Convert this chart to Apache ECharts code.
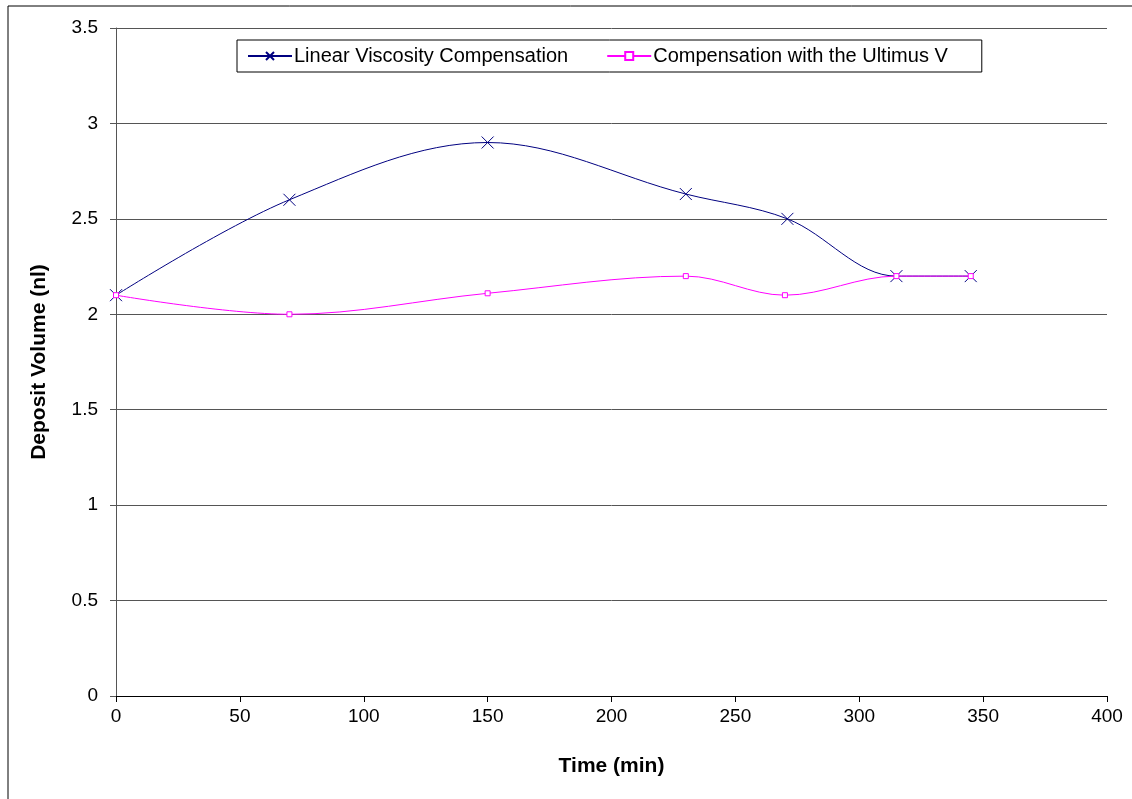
<!DOCTYPE html>
<html><head><meta charset="utf-8">
<script src="https://cdn.jsdelivr.net/npm/echarts@6/dist/echarts.min.js"></script>
<style>html,body{margin:0;padding:0;background:#fff}#c{width:1132px;height:799px}</style>
</head><body><div id="c"></div>
<script>
const seriesNames = ['Linear Viscosity Compensation', 'Compensation with the Ultimus V'];
const linearTime = [0, 70, 150, 230, 271, 315, 345];
const linearVolume = [2.1, 2.6, 2.9, 2.63, 2.5, 2.2, 2.2];
const ultimusTime = [0, 70, 150, 230, 270, 315, 345];
const ultimusVolume = [2.1, 2.0, 2.11, 2.2, 2.1, 2.2, 2.2];
const xTicks = [0, 50, 100, 150, 200, 250, 300, 350, 400];
const yTicks = [0, 0.5, 1, 1.5, 2, 2.5, 3, 3.5];

const chart = echarts.init(document.getElementById('c'), null, {renderer: 'canvas'});
const font = 'Liberation Sans, Arial, sans-serif';
const crossPath = 'path://M0,0L10,10M10,0L0,10';
chart.setOption({
  animation: false,
  textStyle: {fontFamily: font},
  graphic: [{type: 'rect', shape: {x: 8, y: 6, width: 1140, height: 820}, style: {fill: 'none', stroke: '#000', lineWidth: 1}, silent: true, z: -1}],
  grid: {left: 116, right: 25, top: 28, bottom: 103},
  legend: {
    left: 237, top: 40, orient: 'horizontal',
    padding: [6, 34, 6, 10], itemGap: 38,
    borderColor: '#000', borderWidth: 1,
    itemWidth: 44, itemHeight: 10,
    textStyle: {fontSize: 20, color: '#000', fontFamily: font, padding: [0, 0, 0, -3]},
    data: seriesNames
  },
  xAxis: {
    type: 'value', min: 0, max: 400, interval: 50,
    name: 'Time (min)', nameLocation: 'middle', nameGap: 60,
    nameTextStyle: {fontSize: 21, fontWeight: 'bold', color: '#000'},
    axisLine: {lineStyle: {color: '#000'}},
    axisTick: {show: true, length: 6, lineStyle: {color: '#000'}},
    axisLabel: {fontSize: 19, color: '#000', margin: 11,
      formatter: v => xTicks.includes(v) ? String(v) : ''},
    splitLine: {show: false}
  },
  yAxis: {
    type: 'value', min: 0, max: 3.5, interval: 0.5,
    name: 'Deposit Volume (nl)', nameLocation: 'middle', nameGap: 66,
    nameTextStyle: {fontSize: 21, fontWeight: 'bold', color: '#000'},
    axisLine: {show: true, lineStyle: {color: '#555'}},
    axisTick: {show: true, length: 6, lineStyle: {color: '#555'}},
    axisLabel: {fontSize: 19, color: '#000', margin: 18,
      formatter: v => yTicks.includes(v) ? String(v) : ''},
    splitLine: {show: true, lineStyle: {color: '#555', width: 1}}
  },
  series: [
    {
      name: seriesNames[0], type: 'line', smooth: 0.35,
      data: linearTime.map((t, i) => [t, linearVolume[i]]),
      symbol: crossPath, symbolSize: 12,
      lineStyle: {color: '#000080', width: 1},
      itemStyle: {color: 'rgba(0,0,0,0)', borderColor: '#000080', borderWidth: 1}
    },
    {
      name: seriesNames[1], type: 'line', smooth: 0.35,
      data: ultimusTime.map((t, i) => [t, ultimusVolume[i]]),
      symbol: 'rect', symbolSize: 5,
      lineStyle: {color: '#FF00FF', width: 1},
      itemStyle: {color: '#fff', borderColor: '#FF00FF', borderWidth: 1}
    }
  ]
});
</script></body></html>
